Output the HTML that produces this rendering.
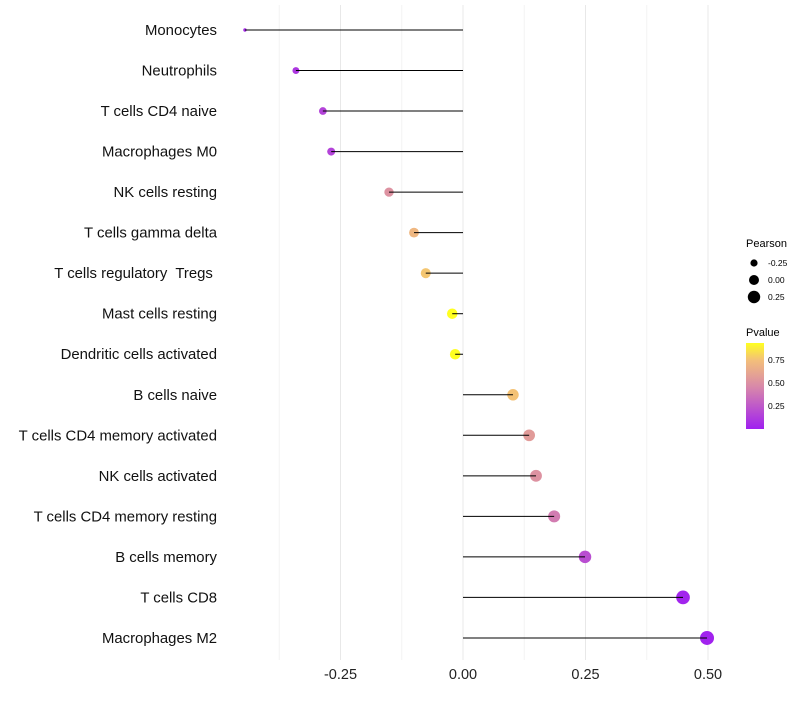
<!DOCTYPE html>
<html><head><meta charset="utf-8"><style>
body{margin:0;background:#fff;font-family:"Liberation Sans",sans-serif;}
svg text{font-family:"Liberation Sans",sans-serif;white-space:pre;}
</style></head><body>
<svg id="chart" width="800" height="700" xmlns="http://www.w3.org/2000/svg">
<defs><linearGradient id="pg" x1="0" y1="1" x2="0" y2="0">
<stop offset="0" stop-color="#a020f0"/><stop offset="0.5" stop-color="#d98aa8"/><stop offset="0.8" stop-color="#f3bf7a"/><stop offset="1" stop-color="#ffff20"/></linearGradient></defs>
<g id="grid"></g>
<g id="points"></g>
<g id="marks"></g>
<g id="labels"></g>
<g id="xticks"></g>
<g>
<text x="746" y="247" font-size="11">Pearson</text>
<circle cx="754" cy="263" r="3.6" fill="#000"/><text x="768" y="266" font-size="8.5">-0.25</text>
<circle cx="754" cy="280" r="5" fill="#000"/><text x="768" y="283" font-size="8.5">0.00</text>
<circle cx="754" cy="297" r="6.2" fill="#000"/><text x="768" y="300" font-size="8.5">0.25</text>
</g>
<g>
<text x="746" y="336" font-size="11">Pvalue</text>
<rect x="746" y="343" width="18" height="86" fill="url(#pg)"/>
<text x="768" y="363" font-size="8.5">0.75</text>
<text x="768" y="386" font-size="8.5">0.50</text>
<text x="768" y="409" font-size="8.5">0.25</text>
</g>
</svg>
<script>
const categories=["Monocytes","Neutrophils","T cells CD4 naive","Macrophages M0","NK cells resting","T cells gamma delta","T cells regulatory  Tregs ","Mast cells resting","Dendritic cells activated","B cells naive","T cells CD4 memory activated","NK cells activated","T cells CD4 memory resting","B cells memory","T cells CD8","Macrophages M2"];
const pearson=[-0.445,-0.341,-0.286,-0.269,-0.151,-0.100,-0.076,-0.022,-0.016,0.102,0.135,0.149,0.186,0.249,0.449,0.498];
const pvalues=[0.05,0.1,0.15,0.15,0.5,0.7,0.76,0.95,0.97,0.75,0.55,0.5,0.4,0.2,0.02,0.01];
const xTicks=[-0.25,0,0.25,0.5];
const xTickLabels=["-0.25","0.00","0.25","0.50"];
const NS="http://www.w3.org/2000/svg";
const x=v=>463+v*490;
const y=i=>30+i*40.53;
const pMin=Math.min(...pearson), pMax=Math.max(...pearson);
const r=v=>1.7+5.3*Math.sqrt(Math.max(0,(v-pMin)/(pMax-pMin||1)));
function lerp(a,b,t){return a.map((c,k)=>Math.round(c+(b[k]-c)*t));}
function color(p){const stops=[[0,[160,32,240]],[0.46,[217,138,168]],[0.74,[243,191,122]],[0.93,[255,255,32]],[1,[255,255,32]]];
for(let k=0;k<stops.length-1;k++){if(p<=stops[k+1][0]){const t=(p-stops[k][0])/(stops[k+1][0]-stops[k][0]);const c=lerp(stops[k][1],stops[k+1][1],Math.max(0,t));return `rgb(${c})`;}}return "rgb(255,255,32)";}
function mk(tag,attrs,parent){const e=document.createElementNS(NS,tag);for(const k in attrs)e.setAttribute(k,attrs[k]);document.getElementById(parent).appendChild(e);return e;}
[-0.375,-0.125,0.125,0.375].forEach(v=>{const g=mk('line',{x1:x(v),x2:x(v),y1:5,y2:660,stroke:'#f3f3f3','stroke-width':1},'grid');

});
xTicks.forEach((v,i)=>{const g=mk('line',{x1:x(v),x2:x(v),y1:5,y2:660,stroke:'#e8e8e8','stroke-width':1},'grid');


const t=mk('text',{x:x(v),y:679,'text-anchor':'middle','font-size':14.5,fill:'#222'},'xticks');t.textContent=xTickLabels[i];

});
categories.forEach((c,i)=>{
const ci=mk('circle',{cx:x(pearson[i]),cy:y(i),r:r(pearson[i]),fill:color(pvalues[i])},'points');


const l=mk('line',{x1:x(0),x2:x(pearson[i]),y1:y(i),y2:y(i),stroke:'#000','stroke-width':1},'marks');


const t=mk('text',{x:217,y:y(i)+5,'text-anchor':'end','font-size':14.9,fill:'#111'},'labels');t.textContent=c;

});
</script>
</body></html>
